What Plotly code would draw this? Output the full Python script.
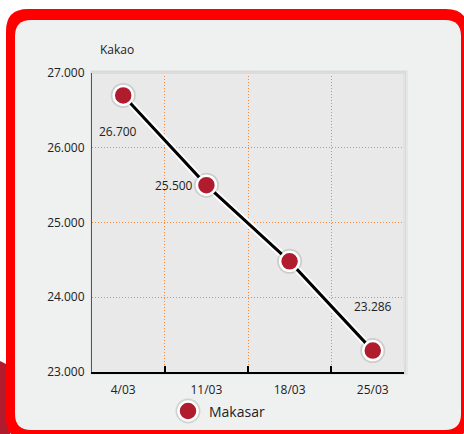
import plotly.graph_objects as go

# Weekly cocoa price, Makasar
weeks = ["4/03", "11/03", "18/03", "25/03"]
prices = [26700, 25500, 24480, 23286]
label_weeks = ["4/03", "11/03", "25/03"]
label_prices = [26700, 25500, 23286]
y_ticks = [23000, 24000, 25000, 26000, 27000]
series_name = "Makasar"
chart_title = "Kakao"

W, H = 464, 434
L, R, T, B = 92, 60, 73, 62
PW, PH = W - L - R, H - T - B

RED = "#ff0000"
DARK_RED = "#b01c2e"
ORANGE = "#f5883a"
FONT = "Open Sans"
TEXT = "#222222"
GRID_DASH = "1px,2px"


def fx(px):
    return (px - L) / PW


def fy(py):
    return (H - B - py) / PH


def rounded_rect(x0, y0, x1, y1, r):
    pts = [
        ("M", [(x0 + r, y0)]),
        ("L", [(x1 - r, y0)]),
        ("Q", [(x1, y0), (x1, y0 + r)]),
        ("L", [(x1, y1 - r)]),
        ("Q", [(x1, y1), (x1 - r, y1)]),
        ("L", [(x0 + r, y1)]),
        ("Q", [(x0, y1), (x0, y1 - r)]),
        ("L", [(x0, y0 + r)]),
        ("Q", [(x0, y0), (x0 + r, y0)]),
    ]
    out = []
    for cmd, coords in pts:
        out.append(cmd + " " + " ".join(f"{fx(a):.5f},{fy(b):.5f}" for a, b in coords))
    return " ".join(out) + " Z"


def poly(points):
    return "M " + " L ".join(f"{fx(a):.5f},{fy(b):.5f}" for a, b in points) + " Z"


def circle(cx, cy, r, **kw):
    return dict(type="circle", xref="paper", yref="paper",
                x0=fx(cx - r), x1=fx(cx + r), y0=fy(cy + r), y1=fy(cy - r), **kw)


LEG_X, LEG_Y = 188, 411

shapes = [
    # dark red backdrop peeking out at the lower left
    dict(type="path", xref="paper", yref="paper", layer="below",
         path=poly([(0, 361), (10, 366), (10, 440), (0, 440)]),
         fillcolor=DARK_RED, line=dict(width=0)),
    # red rounded frame
    dict(type="path", xref="paper", yref="paper", layer="below",
         path=rounded_rect(6, 9, 468, 440, 22),
         fillcolor=RED, line=dict(width=0)),
    # light panel inside the frame
    dict(type="path", xref="paper", yref="paper", layer="below",
         path=rounded_rect(15, 20, 461, 430, 16),
         fillcolor="#eff0f0", line=dict(width=0)),
    # soft shadow around the plotting area
    dict(type="rect", xref="paper", yref="paper", layer="below",
         x0=fx(90), x1=fx(408), y0=fy(70), y1=fy(375),
         fillcolor="rgba(0,0,0,0.04)", line=dict(width=0)),
    dict(type="rect", xref="paper", yref="paper", layer="below",
         x0=fx(91), x1=fx(406), y0=fy(71), y1=fy(374),
         fillcolor="rgba(0,0,0,0.05)", line=dict(width=0)),
    # plotting area background
    dict(type="rect", xref="paper", yref="paper", layer="below",
         x0=0, x1=1, y0=0, y1=1,
         fillcolor="#e9e9e9", line=dict(width=0)),
    # top and right edges of the plotting area
    dict(type="line", xref="paper", yref="paper", layer="above",
         x0=0, x1=1, y0=1, y1=1, line=dict(color="#dcdcdc", width=2)),
    dict(type="line", xref="paper", yref="paper", layer="above",
         x0=1, x1=1, y0=0.02, y1=1, line=dict(color="#e2e2e2", width=2)),
    # legend symbol
    circle(LEG_X, LEG_Y, 12.5, layer="above",
           fillcolor="rgba(0,0,0,0.12)", line=dict(width=0)),
    circle(LEG_X, LEG_Y, 9.5, layer="above",
           fillcolor=DARK_RED, line=dict(color="white", width=2.5)),
]

fig = go.Figure()

# white halo under the line
fig.add_trace(go.Scatter(
    x=weeks, y=prices, mode="lines",
    line=dict(color="white", width=7),
    showlegend=False, hoverinfo="skip",
))
fig.add_trace(go.Scatter(
    x=weeks, y=prices, mode="lines",
    line=dict(color="black", width=3),
    showlegend=False, hoverinfo="skip",
))
# marker glow
fig.add_trace(go.Scatter(
    x=weeks, y=prices, mode="markers",
    marker=dict(size=25, color="rgba(0,0,0,0.12)", line=dict(width=0)),
    showlegend=False, hoverinfo="skip",
))
fig.add_trace(go.Scatter(
    x=weeks, y=prices, mode="markers", name=series_name,
    marker=dict(size=19, color=DARK_RED, line=dict(color="white", width=2.5)),
    showlegend=False,
))

# value labels
label_offsets = {"4/03": (-5, -36), "11/03": (-32, 0), "25/03": (0, 44)}
annotations = []
for wk, val in zip(label_weeks, label_prices):
    dx, dy = label_offsets[wk]
    annotations.append(dict(
        x=wk, y=val, xref="x", yref="y",
        text=f"{val:,}".replace(",", "."),
        showarrow=False, xshift=dx, yshift=dy,
        font=dict(family=FONT, size=12, color=TEXT),
    ))

annotations.append(dict(
    x=fx(98), y=fy(49), xref="paper", yref="paper",
    xanchor="left", yanchor="middle", showarrow=False,
    text=chart_title, font=dict(family=FONT, size=12, color=TEXT),
))
# legend label
annotations.append(dict(
    x=fx(207), y=fy(LEG_Y), xref="paper", yref="paper",
    xanchor="left", yanchor="middle", showarrow=False,
    text=series_name, font=dict(family=FONT, size=14, color=TEXT),
))

fig.update_layout(
    width=W, height=H,
    margin=dict(l=L, r=R, t=T, b=B, pad=0, autoexpand=False),
    paper_bgcolor="white",
    plot_bgcolor="rgba(0,0,0,0)",
    separators=",.",
    font=dict(family=FONT, size=12, color=TEXT),
    shapes=shapes,
    annotations=annotations,
    showlegend=False,
    xaxis=dict(
        type="category", categoryorder="array", categoryarray=weeks,
        tickson="boundaries", ticks="inside", ticklen=6, tickwidth=1.5,
        tickcolor="black",
        showline=True, linecolor="black", linewidth=2,
        showgrid=True, gridcolor=ORANGE, griddash=GRID_DASH, gridwidth=1,
        tickfont=dict(family=FONT, size=12, color=TEXT),
        ticklabelstandoff=6, automargin=False,
        fixedrange=True,
    ),
    yaxis=dict(
        range=[y_ticks[0], y_ticks[-1]],
        tickvals=y_ticks, tickformat=",d",
        showline=True, linecolor="#555555", linewidth=1,
        showgrid=True, gridcolor=ORANGE, griddash=GRID_DASH, gridwidth=1,
        zeroline=False, ticks="", ticklabelstandoff=4, automargin=False,
        tickfont=dict(family=FONT, size=12, color=TEXT),
        fixedrange=True,
    ),
)

fig.write_html("out.html")
